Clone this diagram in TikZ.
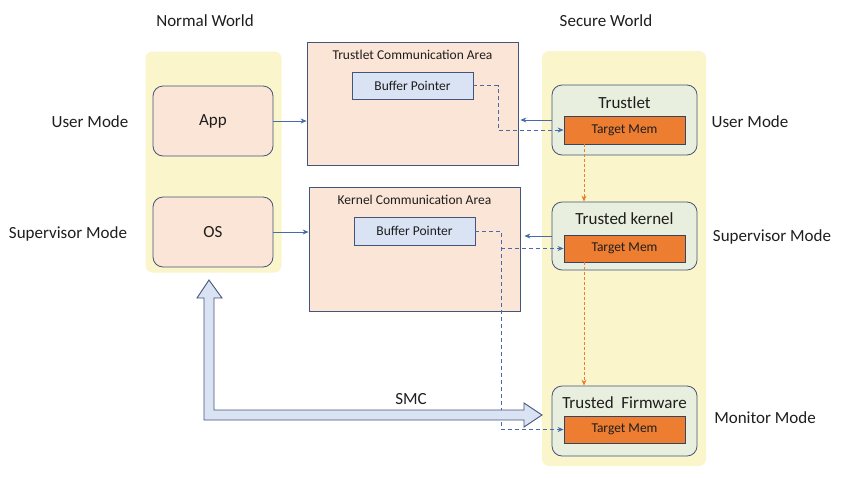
\documentclass[tikz,border=0pt]{standalone}
\usepackage{fontspec}
\setmainfont{Carlito}
\usetikzlibrary{arrows.meta}
\definecolor{panel}{RGB}{250,245,202}
\definecolor{peach}{RGB}{251,229,214}
\definecolor{lblue}{RGB}{218,227,243}
\definecolor{lgreen}{RGB}{233,239,222}
\definecolor{orangem}{RGB}{237,125,49}
\definecolor{edge}{RGB}{68,84,122}
\definecolor{arrowc}{RGB}{72,106,170}
\definecolor{txt}{RGB}{30,30,30}
\begin{document}
\begin{tikzpicture}[x=1pt,y=-1pt,
  every node/.style={text=txt},
  big/.style={font=\fontsize{17}{20}\selectfont},
  small/.style={font=\fontsize{13.5}{16}\selectfont},
  panelbox/.style={fill=panel, draw=none, rounded corners=7pt},
  normbox/.style={fill=peach, draw=edge, line width=0.8pt, rounded corners=10pt, big},
  commbox/.style={fill=peach, draw=edge, line width=0.8pt, minimum width=211pt},
  bufbox/.style={fill=lblue, draw=edge, line width=0.8pt, minimum width=121pt, small},
  secbox/.style={fill=lgreen, draw=edge, line width=0.8pt, rounded corners=10pt, minimum width=145pt},
  tmbox/.style={fill=orangem, draw=edge!80!black, line width=0.8pt, minimum width=121pt, small},
  arr/.style={draw=arrowc, line width=0.8pt, -{Stealth[length=6pt,width=5pt]}},
  bdash/.style={draw=arrowc, line width=0.8pt, dash pattern=on 4pt off 3pt, -{Stealth[length=6pt,width=5pt]}},
  odash/.style={draw=orangem, line width=0.8pt, dash pattern=on 3pt off 2pt, -{Stealth[length=6pt,width=5pt]}}
]
\useasboundingbox (0,0) rectangle (842,477);

% world labels
\node[big] (nwl) at (205,21) {Normal World};
\node[big] (swl) at (606,21) {Secure World};

% panels
\node[panelbox, minimum width=136pt, minimum height=221pt] (np) at (213.5,162) {};
\node[panelbox, minimum width=164pt, minimum height=415pt] (sp) at (624,258.5) {};

% normal world boxes
\node[normbox, minimum width=120pt, minimum height=70pt] (app) at (213,121) {App};
\node[normbox, minimum width=120pt, minimum height=70pt] (os) at (213,232) {OS};

% communication areas
\node[commbox, minimum height=123pt] (tca) at (412.5,103.5) {};
\node[small] (tcat) at (412.5,55) {Trustlet Communication Area};
\node[bufbox, minimum height=27pt] (buf1) at (412.5,85.5) {Buffer Pointer};

\node[commbox, minimum height=124pt] (kca) at (414.5,249) {};
\node[small] (kcat) at (414.5,200) {Kernel Communication Area};
\node[bufbox, minimum height=28pt] (buf2) at (414.5,231) {Buffer Pointer};

% secure boxes
\node[secbox, minimum height=70pt] (tl) at (624.5,120) {};
\node[big] (tlt) at (624.5,103) {Trustlet};
\node[tmbox, minimum height=28pt] (tm1) at (624.5,130) {Target Mem};

\node[secbox, minimum height=68pt] (tk) at (624.5,236) {};
\node[big] (tkt) at (624.5,219) {Trusted kernel};
\node[tmbox, minimum height=27pt] (tm2) at (624.5,248.5) {Target Mem};

\node[secbox, minimum height=70pt] (tf) at (624.5,421) {};
\node[big] (tft) at (624.5,403) {Trusted\ \ Firmware};
\node[tmbox, minimum height=27pt] (tm3) at (624.5,429.5) {Target Mem};

% mode labels
\node[big] (lum) at (90,122) {User Mode};
\node[big] (lsm) at (68,234) {Supervisor Mode};
\node[big] (rum) at (750,122) {User Mode};
\node[big] (rsm) at (772,237) {Supervisor Mode};
\node[big] (rmm) at (765,418) {Monitor Mode};

% solid arrows
\draw[arr] (app.east) -- (app.east -| tca.west);
\draw[arr] (os.east) -- (os.east -| kca.west);
\draw[arr] (tl.west) -- ([xshift=2pt]tl.west -| tca.east);
\draw[arr] (tk.west) -- ([xshift=4pt]tk.west -| kca.east);

% dashed blue
\coordinate (d1) at (498,85.5);
\draw[bdash] (buf1.east) -- (d1) |- (tm1.west);
\coordinate (d2) at (501,231);
\draw[bdash] (buf2.east) -- (d2) |- (tm3.west);
\draw[bdash] (d2 |- tm2.west) -- (tm2.west);

% dashed orange
\coordinate (ox) at (584,0);
\draw[odash] (tm1.south -| ox) -- (tk.north -| ox);
\draw[odash] (tm2.south -| ox) -- (tf.north -| ox);

% SMC arrow
\coordinate (smcup) at (209,280);
\coordinate (smcright) at (542,415);
\filldraw[fill=lblue, draw=edge, line width=0.9pt, line join=miter]
  (smcup) -- (222,298) -- (214,298) -- (214,410) -- (524,410) -- (524,403)
  -- (smcright) -- (524,427) -- (524,420) -- (204,420) -- (204,298) -- (197,298) -- cycle;
\node[big] (smc) at (411,399) {SMC};
\end{tikzpicture}
\end{document}
